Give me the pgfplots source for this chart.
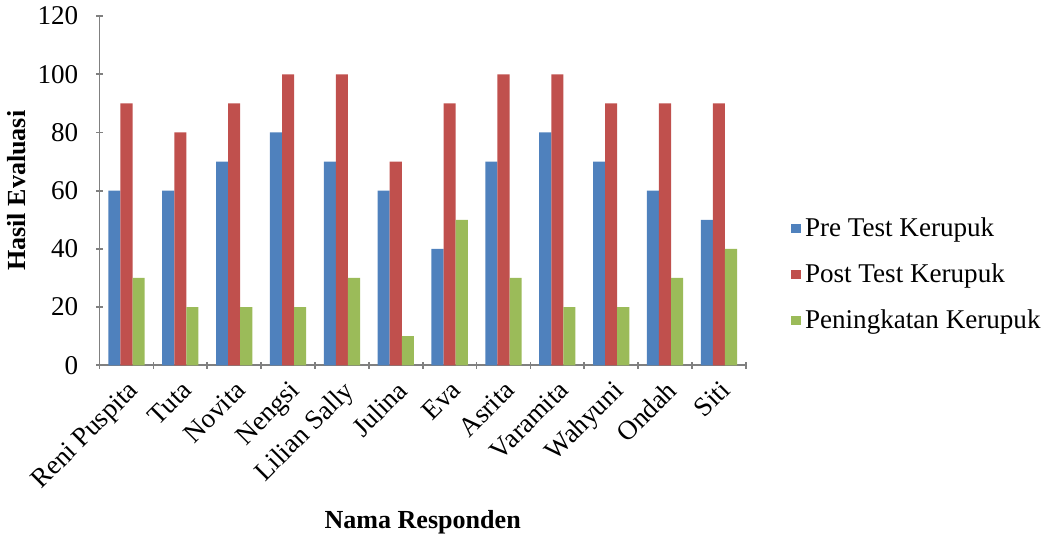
\documentclass[border=0pt]{standalone}
\usepackage{pgfplots}
\pgfplotsset{compat=1.18}
\usepackage{fontspec}
\setmainfont{Liberation Serif}
\definecolor{preblue}{HTML}{4F81BD}
\definecolor{postred}{HTML}{C0504D}
\definecolor{incgreen}{HTML}{9BBB59}
\begin{document}
\begin{tikzpicture}
  \begin{axis}[
      scale only axis,
      width=310pt,
      height=167.5pt,
      ybar=0pt,
      bar width=5.8pt,
      xmin=-0.5, xmax=11.5,
      ymin=0, ymax=120,
      ytick={0,20,...,120},
      xtick={0,...,11},
      xticklabels={Reni Puspita, Tuta, Novita, Nengsi, Lilian Sally, Julina,
        Eva, Asrita, Varamita, Wahyuni, Ondah, Siti},
      minor xtick={-0.5,0.5,...,11.5},
      major x tick style={draw=none},
      minor x tick style={gray, thick},
      y tick style={gray, thick},
      tick align=outside,
      major tick length=3.4pt,
      minor tick length=3.4pt,
      axis lines=left,
      axis line style={gray, thick, -},
      x tick label style={rotate=45, anchor=north east, font=\rmfamily\fontsize{13}{15}\selectfont},
      y tick label style={font=\rmfamily\fontsize{13}{15}\selectfont},
      yticklabel shift=5pt,
      /pgf/number format/assume math mode=true,
      xlabel={\textbf{Nama Responden}},
      ylabel={\textbf{Hasil Evaluasi}},
      label style={font=\rmfamily\fontsize{12.5}{15}\selectfont},
      ylabel style={yshift=-1pt},
      legend style={at={(1.06,0.26)}, anchor=west, draw=none,
        font=\rmfamily\fontsize{13}{15}\selectfont, row sep=7.5pt,
        legend cell align=left},
      legend image code/.code={\fill[#1] (0pt,-2.3pt) rectangle (4.6pt,2.3pt);},
    ]
    \addplot[fill=preblue, draw=none] coordinates {
      (0,60) (1,60) (2,70) (3,80) (4,70) (5,60)
      (6,40) (7,70) (8,80) (9,70) (10,60) (11,50)
    };
    \addplot[fill=postred, draw=none] coordinates {
      (0,90) (1,80) (2,90) (3,100) (4,100) (5,70)
      (6,90) (7,100) (8,100) (9,90) (10,90) (11,90)
    };
    \addplot[fill=incgreen, draw=none] coordinates {
      (0,30) (1,20) (2,20) (3,20) (4,30) (5,10)
      (6,50) (7,30) (8,20) (9,20) (10,30) (11,40)
    };
    \legend{Pre Test Kerupuk, Post Test Kerupuk, Peningkatan Kerupuk}
  \end{axis}
\end{tikzpicture}
\end{document}
